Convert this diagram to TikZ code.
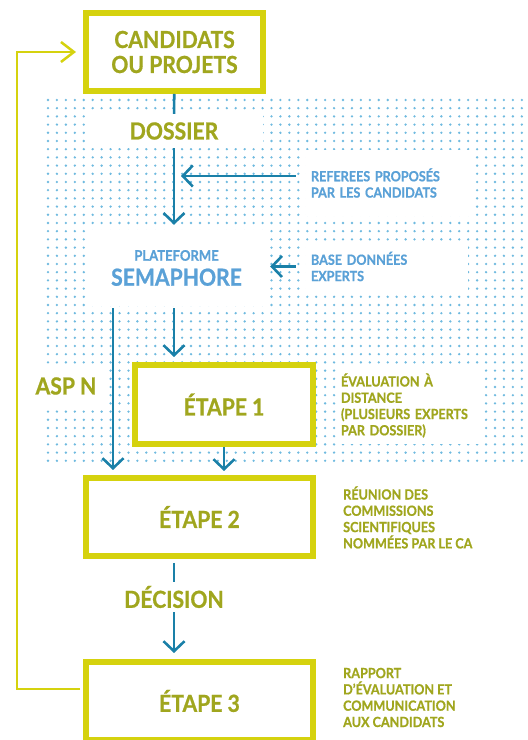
\documentclass[tikz,border=0pt]{standalone}
\usepackage{fontspec}
\setmainfont{Lato}[FakeStretch=0.9, BoldFeatures={FakeBold=0.8}]
\usetikzlibrary{arrows.meta}

\definecolor{jaune}{HTML}{D5D20E}
\definecolor{kaki}{HTML}{A0A61E}
\definecolor{bleu}{HTML}{5AA1D7}
\definecolor{petrole}{HTML}{1A80A8}
\definecolor{point}{HTML}{6FBADF}

\begin{document}
\begin{tikzpicture}
		[x=1pt, y=1pt,
		etape/.style = {draw=jaune, line width=6pt, fill=white, text=kaki, align=center,
			font=\bfseries\fontsize{23.5}{25}\selectfont},
		titre/.style = {fill=white, text=kaki, font=\bfseries\fontsize{23.5}{25}\selectfont},
		note/.style = {fill=white, align=left, inner sep=5pt, font=\bfseries\fontsize{14}{16.3}\selectfont},
		ligne/.style = {draw=petrole, line width=2.6pt},
		fleche/.style = {ligne, -{Straight Barb[length=10pt, width=21pt]}},
		retour/.style = {draw=jaune, line width=2.5pt, -{Straight Barb[length=13pt, width=20pt]}}]
	\useasboundingbox (0,0) rectangle (528,740);
	% trame de points
	\foreach \i in {0,...,53}
		\foreach \j in {0,...,44}
			\fill[point] (48+8.94*\i, 640-8.2*\j) circle (1.3);
	\coordinate (boucle) at (17,0);
	\coordinate (gauche) at (113,0);
	\node[etape, minimum width=177pt, minimum height=78pt] (cand) at (174.5,688) {CANDIDATS\\OU PROJETS};
	\node[titre, minimum width=178pt, minimum height=34pt, inner sep=0pt] (dossier) at (174,609) {DOSSIER};
	\node[note, text=bleu, text width=156pt, minimum height=66pt] (ref) at (389,557) {REFEREES PROPOSÉS\\PAR LES CANDIDATS};
	\node[fill=white, text=bleu, align=center, minimum width=181pt, minimum height=76pt,
		font=\bfseries\fontsize{23.5}{25}\selectfont] (plate) at (176.5,472)
		{{\fontsize{14.5}{25}\selectfont PLATEFORME}\\SEMAPHORE};
	\node[note, text=bleu, text width=152pt, minimum height=47pt] (base) at (387,473.5) {BASE DONNÉES\\EXPERTS};
	\node[titre, minimum width=82pt, minimum height=44pt] (asp) at (66,354) {ASP N};
	\node[etape, minimum width=178pt, minimum height=79pt] (e1) at (224,335.5) {ÉTAPE 1};
	\node[note, text=kaki, text width=136pt, minimum height=77pt] (eval) at (409,334.5) {ÉVALUATION À\\DISTANCE\\(PLUSIEURS EXPERTS\\PAR DOSSIER)};
	\node[etape, minimum width=227pt, minimum height=78pt] (e2) at (199.5,223) {ÉTAPE 2};
	\node[note, text=kaki, fill=none, inner sep=0pt, anchor=west] (reunion) at (343,222.5) {RÉUNION DES\\COMMISSIONS\\SCIENTIFIQUES\\NOMMÉES PAR LE CA};
	\node[titre, fill=none, minimum height=30pt, inner sep=0pt] (decision) at (174,143) {DÉCISION};
	\node[etape, minimum width=227pt, minimum height=78pt] (e3) at (199.5,39) {ÉTAPE 3};
	\node[note, text=kaki, fill=none, inner sep=0pt, anchor=west] (rapport) at (343,42.5) {RAPPORT\\D’ÉVALUATION ET\\COMMUNICATION\\AUX CANDIDATS};
	\draw[ligne] (cand) -- (dossier);
	\draw[fleche, shorten >=5pt] (dossier) -- (dossier |- plate.north);
	\draw[fleche] ([shift={(-10pt,7pt)}]ref.west) -- ([shift={(7pt,7pt)}]ref.west -| dossier);
	\draw[fleche] ([xshift=-10pt]base.west) -- ([xshift=3pt]plate.east |- base.west);
	\draw[fleche, shorten <=2pt, shorten >=5pt] (dossier |- plate.south) -- (dossier |- e1.north);
	\draw[fleche, shorten <=2pt, shorten >=5pt] (gauche |- plate.south) -- (gauche |- e2.north);
	\draw[fleche, shorten >=4pt] (e1.south) -- (e1.south |- e2.north);
	\draw[ligne, shorten <=4pt] (decision |- e2.south) -- (decision);
	\draw[fleche, shorten >=6pt] (decision) -- (decision |- e3.north);
	\draw[retour] ([shift={(-3pt,12pt)}]e3.west) -| (boucle |- cand.west) -- ([xshift=-7pt]cand.west);
\end{tikzpicture}
\end{document}
